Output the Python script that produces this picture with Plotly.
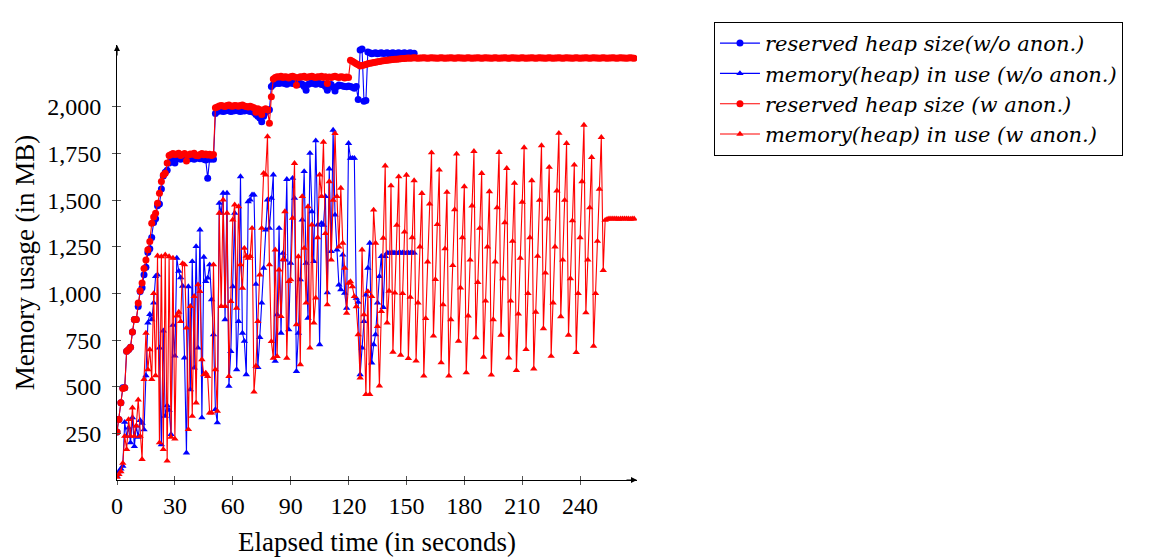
import plotly.graph_objects as go

# ---------------- data (1 sample per second) ----------------
blue_reserved = [
    257, 325, 414, 494, 494, 690, 699, 712, 793, 860,
    860, 930, 1010, 1030, 1100, 1140, 1220, 1240, 1300, 1380,
    1400, 1470, 1480, 1560, 1630, 1650, 1660, 1700, 1720,
    1725, 1700, 1722, 1728, 1720, 1725, 1730, 1718, 1725, 1722,
    1728, 1720, 1725, 1730, 1722, 1725, 1720, 1715, 1618, 1720, 1722, 1720,
    1965, 1975, 1978, 1980, 1975, 1978, 1982, 1980, 1975, 1978,
    1980, 1982, 1978, 1975, 1980, 1978, 1982, 1980, 1975, 1978,
    1970, 1960, 1950, 1940, 1921, 1950, 1970, 1980, 1985,
    2110, 2120, 2125, 2128, 2125, 2130, 2128, 2125, 2122, 2128,
    2130, 2125, 2128, 2125, 2120, 2125, 2122, 2110, 2090, 2120,
    2125, 2128, 2125, 2122, 2128, 2125, 2120, 2122, 2110, 2090,
    2115, 2120, 2105, 2085, 2110, 2118, 2115, 2112, 2110, 2108,
    2112, 2110, 2105, 2100,
    2110, 2040, 2305, 2310, 2030, 2035, 2295, 2290, 2285, 2288,
    2290, 2285, 2288, 2290, 2286, 2288, 2290, 2285, 2288, 2290,
    2286, 2288, 2290, 2285, 2288, 2290, 2286, 2288, 2290, 2285, 2288,
]

blue_in_use = [
    20, 45, 60, 75, 310, 235, 280, 200, 335, 180,
    290, 230, 320, 305, 270, 560, 843, 888, 860, 950,
    1092, 1100, 709, 190, 800, 343, 400, 375, 245, 830,
    665, 1190, 1120, 1085, 1040, 655, 146, 1037, 485, 1172,
    601, 1252, 708, 1341, 334, 1195, 1065, 1083, 1154, 967,
    780, 378, 307, 1484, 1431, 1538, 860, 1538, 503, 690,
    1037, 1431, 592, 851, 1627, 788, 744, 565, 1493, 1502,
    1529, 1529, 1050, 604, 765, 949, 1136, 1341, 1502, 1350,
    1511, 1636, 637, 886, 1350, 788, 1216, 1180, 1612, 806,
    1163, 1618, 1511, 583, 788, 1074, 1395, 1654, 1163, 868,
    1752, 1439, 1172, 1819, 1368, 726, 1377, 1367, 1520, 1005,
    1668, 1225, 1876, 1421, 1234, 1046, 1020, 1207, 1002, 922,
    1805, 1725, 1725, 1725, 975, 953, 565, 708, 851, 993,
    1136, 1270, 628, 726, 780, 950, 1092, 1199, 926, 1199,
    1217, 1216, 1217, 1218, 1217, 1216, 1217, 1217, 1218, 1217,
    1216, 1217, 1217, 1218, 1217,
]

red_reserved = [
    257, 325, 414, 490, 494, 690, 699, 712, 793, 860,
    860, 949, 1015, 1056, 1134, 1180, 1234, 1278, 1376, 1410,
    1430, 1484, 1537, 1600, 1635, 1644, 1700, 1740, 1745,
    1750, 1745, 1748, 1752, 1740, 1745, 1750, 1710, 1742, 1748,
    1746, 1752, 1740, 1738, 1745, 1750, 1744, 1748, 1742, 1746, 1740, 1745,
    1995, 2000, 2005, 2008, 2005, 2002, 2008, 2010, 2005, 2003,
    2008, 2006, 2004, 2008, 2010, 2005, 2002, 2000, 2004, 2000,
    1995, 1972, 1990, 1985, 1960, 1985, 1990, 1985, 1912,
    2055, 2150, 2158, 2162, 2160, 2165, 2158, 2162, 2160, 2155,
    2162, 2165, 2160, 2116, 2158, 2162, 2160, 2165, 2158, 2160,
    2162, 2165, 2160, 2158, 2162, 2160, 2165, 2158, 2162, 2125,
    2160, 2158, 2162, 2165, 2160, 2158, 2162, 2160, 2155, 2160, 2158,
    2250, 2245, 2238, 2232, 2226, 2220, 2222, 2225, 2228, 2232,
    2234, 2236, 2238, 2240, 2242, 2244, 2246, 2248, 2249, 2250,
    2252, 2253, 2254, 2255, 2256, 2257, 2258, 2259, 2260, 2261,
    2262, 2261, 2262, 2263, 2262, 2261, 2262, 2262, 2263, 2262,
    2261, 2262, 2263, 2262, 2262, 2261, 2262, 2263, 2262, 2261,
    2262, 2262, 2263, 2262, 2261, 2262, 2263, 2262, 2262, 2261,
    2262, 2263, 2262, 2261, 2262, 2262, 2263, 2262, 2261, 2262,
    2263, 2262, 2262, 2261, 2262, 2263, 2262, 2261, 2262, 2262,
    2263, 2262, 2261, 2262, 2263, 2262, 2262, 2261, 2262, 2263,
    2262, 2261, 2262, 2262, 2263, 2262, 2261, 2262, 2263, 2262,
    2262, 2261, 2262, 2263, 2262, 2261, 2262, 2262, 2263, 2262,
    2261, 2262, 2263, 2262, 2262, 2261, 2262, 2263, 2262, 2261,
    2262, 2262, 2263, 2262, 2261, 2262, 2263, 2262, 2262, 2261,
    2262, 2263, 2262, 2261, 2262, 2262, 2263, 2262, 2261, 2262,
    2263, 2262, 2262, 2261, 2262, 2263, 2262, 2261, 2262,
]

red_in_use = [
    15, 30, 45, 90, 235, 164, 325, 235, 387, 235,
    290, 430, 235, 111, 540, 788, 592, 699, 540, 1000,
    560, 1202, 200, 1198, 164, 1207, 102, 1198, 230, 1190,
    220, 880, 900, 850, 1161,
    1154, 815, 271, 931, 342, 985, 414, 1047, 1011, 646,
    565, 574, 556, 360, 360, 1154, 592, 369, 1431, 931,
    1502, 931, 1431, 556, 958, 1395, 1475, 922, 1466, 1154,
    1029, 1243, 1200, 1190, 1199, 1350,
    472, 611, 851, 1100, 1350, 1645, 1636, 1841, 1154,
    743, 654, 1234, 663, 1127, 877, 1181, 1439, 654, 1065,
    1074, 1404, 1698, 833, 1198, 619, 1520, 1243, 949, 1466,
    708, 1368, 842, 976, 1300, 1636, 1520, 1812, 1322, 940,
    1600, 1180, 1500, 1858, 1520, 1250, 1565, 1270, 1136, 895,
    1055, 1064, 1037, 984, 930, 780, 548, 1234, 886, 459,
    1011, 459, 984, 1448, 1270, 824, 505, 904, 1297, 1684,
    843, 1013, 1578, 686, 1003, 1366, 1626, 670, 1000, 1330,
    1635, 652, 980, 1300, 1605, 638, 950, 1250, 1537, 558,
    866, 1170, 1480, 1755, 772, 1075, 1370, 1662, 629, 940,
    1240, 1543, 558, 860, 1150, 1450, 1748, 745, 1030, 1300,
    1573, 575, 880, 1180, 1470, 1762, 763, 1060, 1350, 1644,
    659, 960, 1250, 1546, 563, 860, 1170, 1460, 1757, 777,
    1080, 1380, 1671, 655, 960, 1280, 1591, 588, 890, 1190,
    1490, 1782, 700, 1000, 1300, 1605, 596, 900, 1200, 1500,
    1793, 812, 1110, 1400, 1677, 664, 950, 1250, 1550, 1859,
    876, 1180, 1500, 1805, 777, 1080, 1390, 1689, 684, 1000,
    1300, 1600, 1903, 897, 1180, 1460, 1730, 718, 1000, 1280,
    1560, 1837, 1124, 1393, 1398, 1400, 1400, 1401, 1400, 1400,
    1399, 1400, 1400, 1401, 1400, 1400, 1399, 1400, 1400,
]

blue_time = list(range(len(blue_in_use)))
red_time = list(range(len(red_in_use)))

x_ticks = [0, 30, 60, 90, 120, 150, 180, 210, 240]
y_ticks = [250, 500, 750, 1000, 1250, 1500, 1750, 2000]

names = [
    "<i>reserved heap size(w/o anon.)</i>",
    "<i>memory(heap) in use (w/o anon.)</i>",
    "<i>reserved heap size (w anon.)</i>",
    "<i>memory(heap) in use (w anon.)</i>",
]

BLUE = "#0000ff"
RED = "#ff0000"
FONT = "Liberation Serif"

fig = go.Figure()
fig.add_trace(go.Scatter(x=blue_time[:len(blue_reserved)], y=blue_reserved, name=names[0],
                         mode="lines+markers", line=dict(color=BLUE, width=1.1),
                         marker=dict(symbol="circle", size=7, color=BLUE)))
fig.add_trace(go.Scatter(x=blue_time, y=blue_in_use, name=names[1],
                         mode="lines+markers", line=dict(color=BLUE, width=1.1),
                         marker=dict(symbol="triangle-up", size=6.5, color=BLUE)))
fig.add_trace(go.Scatter(x=red_time[:len(red_reserved)], y=red_reserved, name=names[2],
                         mode="lines+markers", line=dict(color=RED, width=1.1),
                         marker=dict(symbol="circle", size=7, color=RED)))
fig.add_trace(go.Scatter(x=red_time, y=red_in_use, name=names[3],
                         mode="lines+markers", line=dict(color=RED, width=1.1),
                         marker=dict(symbol="triangle-up", size=6.5, color=RED)))

XR = [0, 269.5]
YR = [0, 2332]

fig.update_layout(
    width=1152, height=558,
    margin=dict(l=117, r=515, t=45, b=78),
    paper_bgcolor="white", plot_bgcolor="white",
    font=dict(family=FONT, size=24, color="black"),
    showlegend=True,
    legend=dict(x=1.148, y=1.053, xanchor="left", yanchor="top",
                bordercolor="black", borderwidth=1, bgcolor="white",
                font=dict(family="DejaVu Serif", size=21), tracegroupgap=0,
                itemwidth=40),
    xaxis=dict(range=XR, tickvals=x_ticks, ticks="outside", ticklen=4,
               tickcolor="#555", showline=True, linecolor="black", linewidth=1,
               showgrid=False, zeroline=False, automargin=False,
               ticklabelstandoff=0,
               title=dict(text="Elapsed time (in seconds)", font=dict(size=27), standoff=14),
               tickfont=dict(size=24)),
    yaxis=dict(range=YR, tickvals=y_ticks, tickformat=",d", ticks="outside", ticklen=4,
               tickcolor="#555", showline=True, linecolor="black", linewidth=1,
               showgrid=False, zeroline=False, automargin=False,
               ticklabelstandoff=6,
               title=dict(text="Memory usage (in MB)", font=dict(size=27), standoff=4),
               tickfont=dict(size=24)),
    xaxis2=dict(range=XR, overlaying="x", tickvals=x_ticks, ticks="inside", ticklen=4,
                tickcolor="#555", showticklabels=False, showline=False,
                showgrid=False, zeroline=False),
    yaxis2=dict(range=YR, overlaying="y", tickvals=y_ticks, ticks="inside", ticklen=4,
                tickcolor="#555", showticklabels=False, showline=False,
                showgrid=False, zeroline=False),
)
# invisible trace so the overlay axes are drawn
fig.add_trace(go.Scatter(x=[XR[0]], y=[YR[0]], xaxis="x2", yaxis="y2", mode="markers",
                         marker=dict(opacity=0), showlegend=False, hoverinfo="skip"))

# axis arrows
fig.add_annotation(x=1, y=0, xref="paper", yref="paper", ax=-12, ay=0,
                   showarrow=True, arrowhead=2, arrowsize=1, arrowwidth=1.2,
                   arrowcolor="black", text="")
fig.add_annotation(x=0, y=1, xref="paper", yref="paper", ax=0, ay=12,
                   showarrow=True, arrowhead=2, arrowsize=1, arrowwidth=1.2,
                   arrowcolor="black", text="")

fig.write_html("out.html", config={"displayModeBar": False},
               post_script="document.body.style.margin='0';")
